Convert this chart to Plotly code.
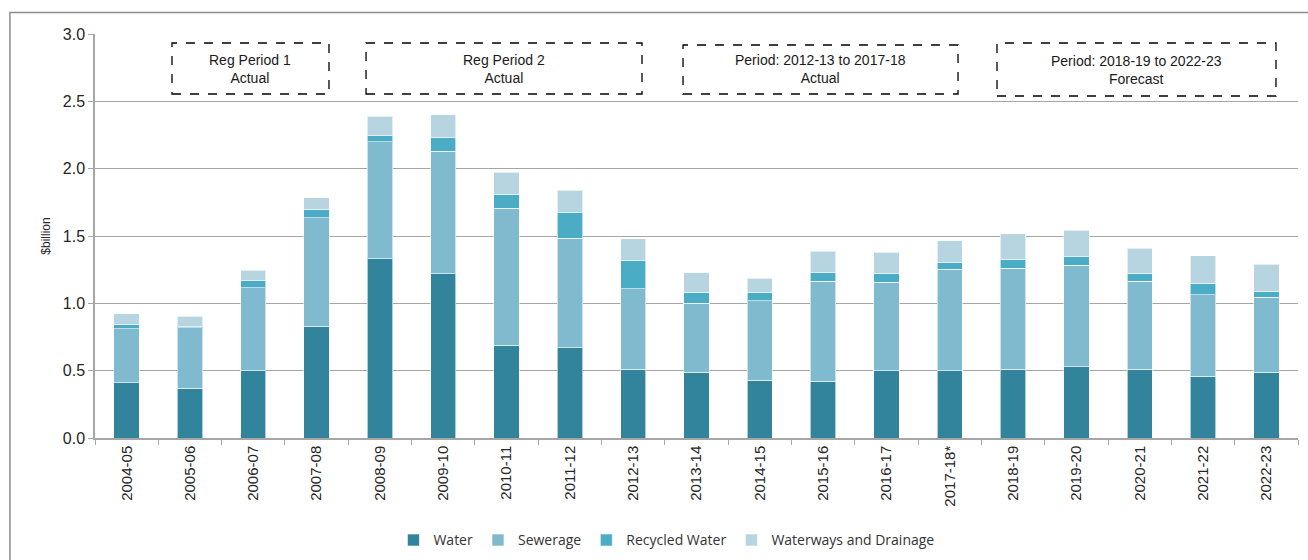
import plotly.graph_objects as go

categories = ["2004-05", "2005-06", "2006-07", "2007-08", "2008-09", "2009-10", "2010-11",
              "2011-12", "2012-13", "2013-14", "2014-15", "2015-16", "2016-17", "2017-18*",
              "2018-19", "2019-20", "2020-21", "2021-22", "2022-23"]

water = [0.41, 0.37, 0.50, 0.83, 1.33, 1.22, 0.69, 0.67, 0.51, 0.49, 0.43, 0.42, 0.50, 0.50,
         0.51, 0.53, 0.51, 0.46, 0.49]
sewerage = [0.40, 0.45, 0.615, 0.807, 0.871, 0.911, 1.015, 0.812, 0.60, 0.509, 0.59, 0.743,
            0.657, 0.753, 0.751, 0.751, 0.654, 0.605, 0.556]
recycled = [0.032, 0.008, 0.054, 0.057, 0.042, 0.099, 0.106, 0.19, 0.208, 0.082, 0.057, 0.065,
            0.064, 0.05, 0.064, 0.064, 0.057, 0.084, 0.042]
waterways = [0.079, 0.077, 0.077, 0.089, 0.146, 0.172, 0.161, 0.166, 0.16, 0.145, 0.111, 0.16,
             0.158, 0.16, 0.19, 0.197, 0.188, 0.203, 0.202]

series = [
    ("Water", water, "#31849B"),
    ("Sewerage", sewerage, "#7FBACF"),
    ("Recycled Water", recycled, "#4BACC6"),
    ("Waterways and Drainage", waterways, "#B7D5E0"),
]

period_boxes = [
    ("Reg Period 1<br>Actual", 0.064, 0.1945, 0.8515, 0.9777),
    ("Reg Period 2<br>Actual", 0.2253, 0.4547, 0.8515, 0.9777),
    ("Period: 2012-13 to 2017-18<br>Actual", 0.4888, 0.7174, 0.8515, 0.9728),
    ("Period: 2018-19 to 2022-23<br>Forecast", 0.7498, 0.9817, 0.8465, 0.9777),
]

fig = go.Figure()
for name, vals, col in series:
    fig.add_trace(go.Bar(
        x=categories, y=vals, name=name,
        marker=dict(color=col, line=dict(color="rgba(255,255,255,0.6)", width=1)),
    ))

shapes = []
annotations = []
for text, x0, x1, y0, y1 in period_boxes:
    shapes.append(dict(type="rect", xref="paper", yref="paper", x0=x0, x1=x1, y0=y0, y1=y1,
                       line=dict(color="black", width=1.3, dash="dash"), fillcolor="white",
                       layer="above"))
    annotations.append(dict(xref="paper", yref="paper", x=(x0 + x1) / 2, y=(y0 + y1) / 2,
                            xanchor="center", yanchor="middle",
                            text=text, showarrow=False,
                            font=dict(family="Liberation Sans", size=14, color="#1a1a1a")))

# outer chart frame
shapes.append(dict(type="rect", xref="paper", yref="paper", x0=-0.0707, x1=1.02, y0=-0.35,
                   y1=1.053, line=dict(color="#8c8c8c", width=1.5), layer="below"))

fig.update_layout(
    barmode="stack",
    bargap=0.6,
    width=1308, height=560,
    margin=dict(l=95, r=10, t=34, b=122),
    paper_bgcolor="white", plot_bgcolor="white",
    font=dict(family="Liberation Sans", size=13, color="#262626"),
    shapes=shapes,
    annotations=annotations,
    legend=dict(orientation="h", x=0.475, xanchor="center", yref="container", y=0.035,
                yanchor="middle",
                font=dict(family="Open Sans", size=14, color="#333333"),
                traceorder="normal", itemwidth=30),
    showlegend=True,
)
fig.update_xaxes(
    type="category", tickson="boundaries", ticks="outside", ticklen=5, tickcolor="#a6a6a6",
    showline=True, linecolor="#a6a6a6", linewidth=1.5, tickangle=-90, automargin=False,
    tickfont=dict(family="Liberation Sans", size=15, color="#262626"), showgrid=False,
)
fig.update_yaxes(
    range=[0, 3.0], dtick=0.5, tickformat=".1f", showgrid=True, gridcolor="#a6a6a6",
    gridwidth=1, showline=True, linecolor="#a6a6a6", linewidth=1.5, ticks="outside",
    ticklen=5, tickcolor="#a6a6a6", zeroline=False, automargin=False,
    tickfont=dict(family="Liberation Sans", size=16, color="#262626"),
    title=dict(text="$billion", font=dict(family="Liberation Sans", size=12, color="#262626"),
               standoff=10),
)

fig.write_html("out.html", config={"displayModeBar": False},
               post_script="document.body.style.margin='0px';")
